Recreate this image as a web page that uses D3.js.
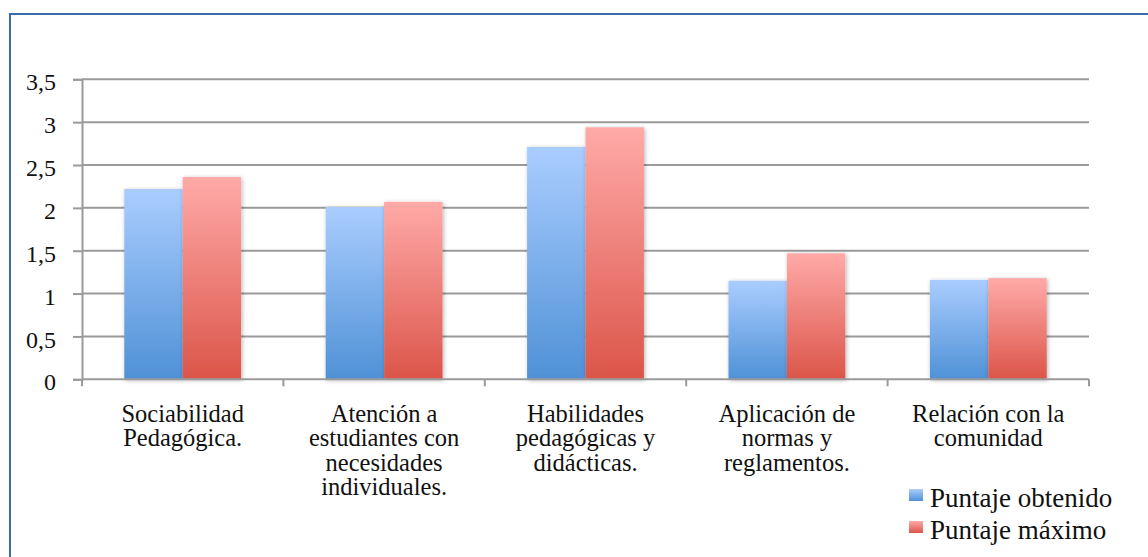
<!DOCTYPE html>
<html>
<head>
<meta charset="utf-8">
<script src="https://cdnjs.cloudflare.com/ajax/libs/d3/7.8.5/d3.min.js"></script>
<style>
  body { margin: 0; background: #fff; }
  text { font-family: "Liberation Serif", "DejaVu Serif", serif; fill: #111; }
</style>
</head>
<body>
<script>
var categories = [
  ["Sociabilidad", "Pedagógica."],
  ["Atención a", "estudiantes con", "necesidades", "individuales."],
  ["Habilidades", "pedagógicas y", "didácticas."],
  ["Aplicación de", "normas y", "reglamentos."],
  ["Relación con la", "comunidad"]
];
var seriesNames = ["Puntaje obtenido", "Puntaje máximo"];
var obtenido = [2.22, 2.01, 2.71, 1.15, 1.16];
var maximo = [2.36, 2.07, 2.94, 1.47, 1.18];
var yTicks = [0, 0.5, 1, 1.5, 2, 2.5, 3, 3.5];

var width = 1148, height = 557;
var svg = d3.select("body").append("svg")
  .attr("width", width)
  .attr("height", height);

var defs = svg.append("defs");
var grads = [["gBlue", "#aacdff", "#4f91d6"], ["gRed", "#ffaaa8", "#db5549"]];
grads.forEach(function (g) {
  var lg = defs.append("linearGradient").attr("id", g[0])
    .attr("x1", 0).attr("y1", 0).attr("x2", 0).attr("y2", 1);
  lg.append("stop").attr("offset", "0%").attr("stop-color", g[1]);
  lg.append("stop").attr("offset", "100%").attr("stop-color", g[2]);
});
var sh = defs.append("filter").attr("id", "shadow")
  .attr("x", "-20%").attr("y", "-10%").attr("width", "140%").attr("height", "120%");
sh.append("feDropShadow").attr("dx", 1).attr("dy", 1).attr("stdDeviation", 2)
  .attr("flood-color", "#000").attr("flood-opacity", 0.3);

// outer frame
svg.append("rect")
  .attr("x", 10).attr("y", 14)
  .attr("width", 1160).attr("height", 600)
  .attr("fill", "none")
  .attr("stroke", "#3a6dab")
  .attr("stroke-width", 2);

var plotLeft = 82, plotRight = 1089, plotTop = 79.3, plotBottom = 379.3;

var x = d3.scaleBand().domain(d3.range(categories.length))
  .range([plotLeft, plotRight]).paddingInner(0).paddingOuter(0);
var xs = d3.scaleBand().domain([0, 1])
  .range([x.bandwidth() * 0.21, x.bandwidth() * 0.79]);
var y = d3.scaleLinear().domain([0, 3.5]).range([plotBottom, plotTop]);

// gridlines
svg.append("g").selectAll("line")
  .data(yTicks.slice(1))
  .join("line")
  .attr("x1", plotLeft).attr("x2", plotRight)
  .attr("y1", function (d) { return y(d); })
  .attr("y2", function (d) { return y(d); })
  .attr("stroke", "#9a9a9a")
  .attr("stroke-width", 2);

// y axis
var yAxis = svg.append("g")
  .attr("transform", "translate(" + plotLeft + ",0)")
  .call(d3.axisLeft(y).tickValues(yTicks)
    .tickSize(9).tickPadding(17)
    .tickFormat(function (d) { return String(d).replace(".", ","); }));
yAxis.attr("font-family", null).attr("font-size", null);
yAxis.select(".domain").attr("stroke", "#9a9a9a").attr("stroke-width", 2);
yAxis.selectAll(".tick line").attr("stroke", "#9a9a9a").attr("stroke-width", 2);
yAxis.selectAll(".tick text")
  .attr("dy", "0.44em")
  .style("font-size", "24px")
  .style("fill", "#111");

// bars
var series = [obtenido, maximo];
var groups = svg.append("g").selectAll("g")
  .data(categories)
  .join("g")
  .attr("transform", function (d, i) { return "translate(" + x(i) + ",0)"; });
groups.selectAll("rect")
  .data(function (d, i) { return series.map(function (s, k) { return { k: k, v: s[i] }; }); })
  .join("rect")
  .attr("x", function (d) { return xs(d.k); })
  .attr("width", xs.bandwidth())
  .attr("y", function (d) { return y(d.v); })
  .attr("height", function (d) { return plotBottom - y(d.v); })
  .attr("fill", function (d) { return d.k === 0 ? "url(#gBlue)" : "url(#gRed)"; })
  .attr("filter", "url(#shadow)");

// x axis
var xAxis = svg.append("g")
  .attr("transform", "translate(0," + plotBottom + ")");
xAxis.append("line")
  .attr("x1", plotLeft).attr("x2", plotRight)
  .attr("stroke", "#9a9a9a").attr("stroke-width", 2);
xAxis.selectAll("line.tk")
  .data(d3.range(categories.length + 1))
  .join("line").attr("class", "tk")
  .attr("x1", function (i) { return plotLeft + i * x.step(); })
  .attr("x2", function (i) { return plotLeft + i * x.step(); })
  .attr("y1", 0).attr("y2", 7)
  .attr("stroke", "#9a9a9a").attr("stroke-width", 2);

var labels = svg.append("g").selectAll("text")
  .data(categories)
  .join("text")
  .attr("text-anchor", "middle")
  .style("font-size", "24.5px")
  .attr("transform", function (d, i) {
    return "translate(" + (x(i) + x.bandwidth() / 2) + ",422)";
  });
labels.selectAll("tspan")
  .data(function (d) { return d; })
  .join("tspan")
  .attr("x", 0)
  .attr("y", function (d, j) { return j * 24.4; })
  .text(function (d) { return d; });

// legend
var legend = svg.append("g").selectAll("g")
  .data(seriesNames)
  .join("g")
  .attr("transform", function (d, i) { return "translate(909," + (489 + i * 32) + ")"; });
legend.append("rect")
  .attr("width", 14).attr("height", 12)
  .attr("fill", function (d, i) { return i === 0 ? "url(#gBlue)" : "url(#gRed)"; });
legend.append("text")
  .attr("x", 21).attr("y", 17.5)
  .style("font-size", "27px")
  .text(function (d) { return d; });
</script>
</body>
</html>
